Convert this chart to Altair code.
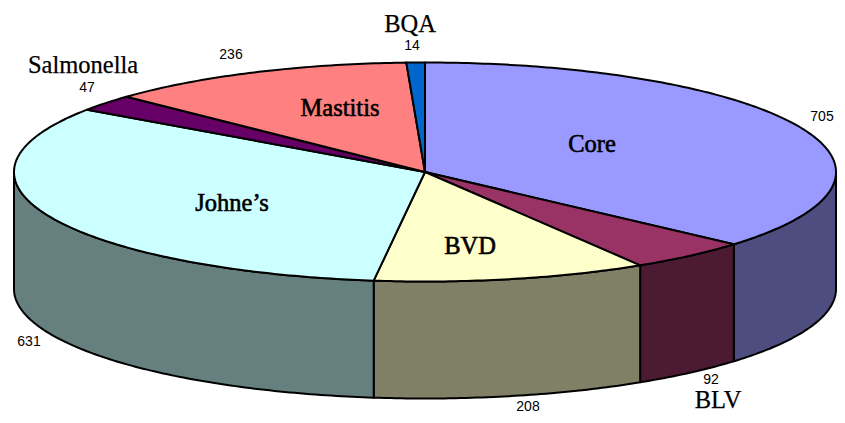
import math
import altair as alt
import pandas as pd

# Data
names = ["Core", "BLV", "BVD", "Johne\u2019s", "Salmonella", "Mastitis", "BQA"]
values = [705, 92, 208, 631, 47, 236, 14]
top_colors = ["#9999FF", "#993366", "#FFFFCC", "#CCFFFF", "#660066", "#FF8080", "#0066CC"]
wall_colors = ["#4D4D80", "#4D1A33", "#808066", "#668080", "#330033", "#804040", "#003366"]

# Label anchors (page pixels)
name_x = [592, 718, 470, 232, 83, 340, 410]
name_y = [145, 401, 247, 204, 66, 109, 25]
name_heavy = [True, False, True, True, False, True, False]
value_x = [822, 711, 528, 29, 87, 231, 412]
value_y = [117, 380, 407, 342, 88, 55, 46]

# Projection of the tilted pie
CX, CY, RX, RY, DEPTH = 425.0, 172.0, 411.0, 109.5, 117.0
W, H = 829, 407

xs = alt.X("x:Q", scale=alt.Scale(domain=[8, 8 + W], nice=False, zero=False), axis=None)
ys = alt.Y("y:Q", scale=alt.Scale(domain=[8 + H, 8], nice=False, zero=False), axis=None)


def rim(deg, drop=0.0):
    t = math.radians(deg)
    return CX + RX * math.sin(t), CY - RY * math.cos(t) + drop


def arc_points(a0, a1, drop=0.0):
    n = max(2, int(abs(a1 - a0) / 0.75) + 1)
    return [rim(a0 + (a1 - a0) * k / (n - 1), drop) for k in range(n)]


def polygon(points, fill):
    pts = points + [points[0]]
    df = pd.DataFrame({"x": [p[0] for p in pts], "y": [p[1] for p in pts], "i": range(len(pts))})
    return (
        alt.Chart(df)
        .mark_line(fill=fill, stroke="#000000", strokeWidth=2, strokeJoin="round", clip=False)
        .encode(x=xs, y=ys, order=alt.Order("i:Q"))
    )


total = sum(values)
layers = []
edges = []
a = 0.0
for v in values:
    edges.append((a, a + v / total * 360.0))
    a += v / total * 360.0

# side walls: only the part of the rim facing the viewer
for (a0, a1), col in zip(edges, wall_colors):
    lo, hi = max(a0, 90.0), min(a1, 270.0)
    if hi > lo:
        layers.append(polygon(arc_points(lo, hi) + arc_points(hi, lo, DEPTH), col))

# top face
for (a0, a1), col in zip(edges, top_colors):
    layers.append(polygon([(CX, CY)] + arc_points(a0, a1), col))

names_df = pd.DataFrame({"x": name_x, "y": name_y, "t": names, "heavy": name_heavy})
values_df = pd.DataFrame({"x": value_x, "y": value_y, "t": [str(v) for v in values]})

for flag, sw in ((True, 0.6), (False, 0.25)):
    layers.append(
        alt.Chart(names_df[names_df["heavy"] == flag])
        .mark_text(font="Liberation Serif", fontSize=24.5, color="#000000", stroke="#000000",
                   strokeWidth=sw, baseline="middle", align="center")
        .encode(x=xs, y=ys, text="t:N")
    )
layers.append(
    alt.Chart(values_df)
    .mark_text(font="Liberation Sans", fontSize=14, color="#000000", baseline="middle", align="center")
    .encode(x=xs, y=ys, text="t:N")
)

chart = (
    alt.layer(*layers)
    .properties(width=W, height=H, padding=0, autosize=alt.AutoSizeParams(type="none"))
    .configure_view(stroke=None)
)
chart.save("out.html", embed_options={"renderer": "svg", "actions": False})
